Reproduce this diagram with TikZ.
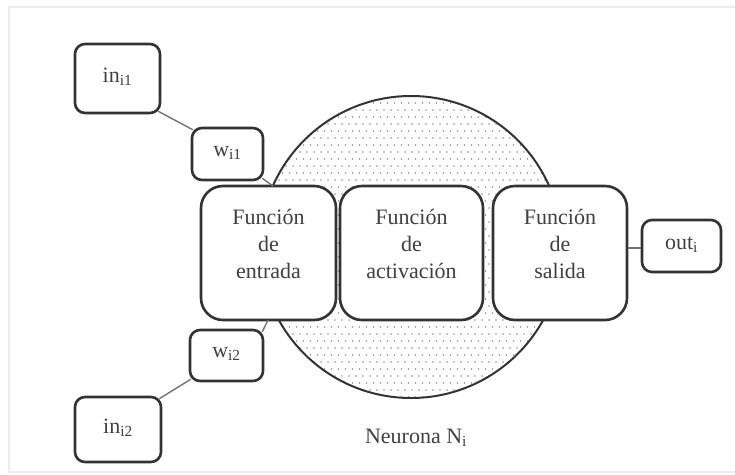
\documentclass[tikz,border=0pt]{standalone}
\usepackage{fontspec}
\setmainfont{Liberation Serif}
\begin{document}
\begin{tikzpicture}[x=1pt,y=-1pt,
  box/.style={draw=black!80, line width=2.6pt, fill=white, inner sep=0pt},
  bigbox/.style={box, rounded corners=22pt, minimum height=134pt},
  smallbox/.style={box, rounded corners=10pt},
  txt/.style={font=\fontsize{22}{27}\selectfont, text=black!75, align=center},
  conn/.style={draw=black!55, line width=1.4pt},
  dotc/.style={fill=black!42}]
\useasboundingbox (0,0) rectangle (735,474);
% faint frame
\draw[black!7, line width=1.5pt] (735,7) -- (9,7) -- (9,472) -- (735,472);
% dotted circle
\begin{scope}
  \clip (411,247) circle (151);
  \foreach \r in {0,...,44}{
    \foreach \c in {0,...,44}{
      \fill[dotc] ({258+7*\c+3.5*mod(\r,2)},{96+7*\r}) circle (0.9);
    }
  }
\end{scope}
\node[draw=black!80, line width=2pt, circle, minimum size=302pt, inner sep=0pt] (neurona) at (411,247) {};
% boxes
\node[bigbox, minimum width=135pt] (entrada) at (268.5,253) {};
\node[bigbox, minimum width=143pt] (activ) at (411.5,253) {};
\node[bigbox, minimum width=134pt] (salida) at (560,253) {};
\node[txt] (entradaT) at (268.5,244) {Función\\de\\entrada};
\node[txt] (activT) at (411.5,244) {Función\\de\\activación};
\node[txt] (salidaT) at (560,244) {Función\\de\\salida};
% inputs
\node[smallbox, minimum width=85pt, minimum height=69pt] (inA) at (117.5,78.5) {};
\node[txt] (inAT) at (117.5,77) {in\textsubscript{i1}};
\node[smallbox, minimum width=71pt, minimum height=52pt] (wA) at (227.5,154) {};
\node[txt] (wAT) at (227.5,153) {w\textsubscript{i1}};
\node[smallbox, minimum width=73pt, minimum height=51pt] (wB) at (226.5,355.5) {};
\node[txt] (wBT) at (226.5,354) {w\textsubscript{i2}};
\node[smallbox, minimum width=86pt, minimum height=65pt] (inB) at (118,429.5) {};
\node[txt] (inBT) at (118,428) {in\textsubscript{i2}};
\node[smallbox, minimum width=79pt, minimum height=52pt] (out) at (681.5,246) {};
\node[txt] (outT) at (681.5,245) {out\textsubscript{i}};
% label
\node[txt] (lbl) at (416,438) {Neurona N\textsubscript{i}};
% connectors
\coordinate (cA) at (273,186);
\coordinate (cB) at (268,320);
\draw[conn] (inA.south east) ++(-3,-3) -- ([shift={(2,3)}]wA.north west);
\draw[conn] ([shift={(-2,-3)}]wA.south east) -- (cA);
\draw[conn] ([shift={(-3,3)}]inB.north east) -- ([shift={(2,-3)}]wB.south west);
\draw[conn] ([shift={(-2,3)}]wB.north east) -- (cB);
\draw[conn] ([yshift=-2pt]out.west -| salida.east) -- ([yshift=-2pt]out.west);
\end{tikzpicture}
\end{document}
